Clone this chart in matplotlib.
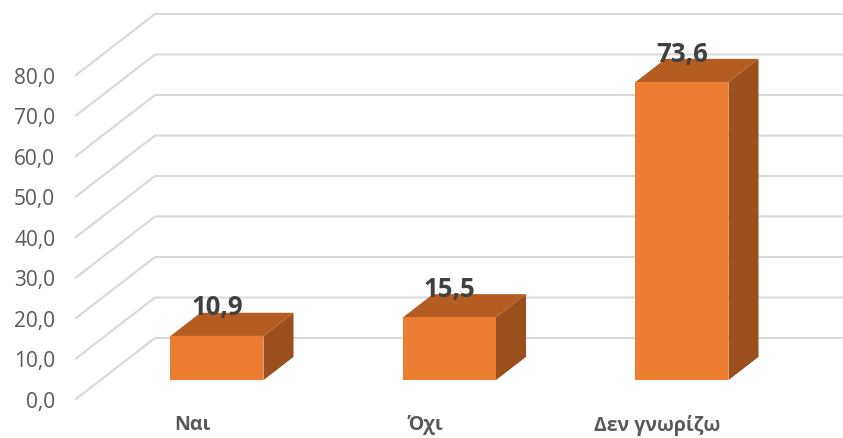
import matplotlib
matplotlib.use('Agg')
import matplotlib.pyplot as plt
import numpy as np
from matplotlib.patches import Polygon

categories = ['Ναι', 'Όχι', 'Δεν γνωρίζω']
values = [10.9, 15.5, 73.6]
y_ticks = [0, 10, 20, 30, 40, 50, 60, 70, 80]

W, H = 843, 439
PX_UNIT = 4.05      # pixels per value unit
PX_CAT = 232.5      # pixels between categories
LEFT, BOTTOM = 76, 400
CAT0 = 192.5

# wall depth in pixels
DEPTH_X, DEPTH_Y = 79, 61
BAR_W = 93 / PX_CAT
BAR_NEAR, BAR_FAR = 0.31, 0.69

plt.rcParams['font.family'] = ['Open Sans', 'DejaVu Sans']

fig = plt.figure(figsize=(W / 100, H / 100), dpi=100)
ax = fig.add_axes([LEFT / W, (H - BOTTOM) / H, (W - LEFT) / W, BOTTOM / H])
ax.set_xlim((LEFT - CAT0) / PX_CAT, (W - CAT0) / PX_CAT)
ax.set_ylim(0, BOTTOM / PX_UNIT)
for s in ax.spines.values():
    s.set_visible(False)


def project(x, v, d):
    # oblique projection, d=0 is the front edge of the floor and d=1 the back wall
    return x + d * DEPTH_X / PX_CAT, v + d * DEPTH_Y / PX_UNIT


x_left = ax.get_xlim()[0]
x_right = ax.get_xlim()[1]
for t in y_ticks:
    x0, y0 = project(x_left, t, 0)
    x1, y1 = project(x_left, t, 1)
    ax.plot([x0, x1, x_right], [y0, y1, y1], color='#d9d9d9', lw=1.5, zorder=1,
            clip_on=False, solid_joinstyle='miter')

for i, v in enumerate(values):
    xl = i - BAR_W / 2
    xr = i + BAR_W / 2
    front = [project(xl, 0, BAR_NEAR), project(xr, 0, BAR_NEAR),
             project(xr, v, BAR_NEAR), project(xl, v, BAR_NEAR)]
    top = [project(xl, v, BAR_NEAR), project(xr, v, BAR_NEAR),
           project(xr, v, BAR_FAR), project(xl, v, BAR_FAR)]
    side = [project(xr, 0, BAR_NEAR), project(xr, 0, BAR_FAR),
            project(xr, v, BAR_FAR), project(xr, v, BAR_NEAR)]
    ax.add_patch(Polygon(side, closed=True, fc='#9a4f1c', ec='none', zorder=3))
    ax.add_patch(Polygon(top, closed=True, fc='#b35d22', ec='none', zorder=3))
    ax.add_patch(Polygon(front, closed=True, fc='#ed7d31', ec='none', zorder=4))
    lx, ly = project(i, v, BAR_NEAR)
    ax.annotate(f'{v:.1f}'.replace('.', ','), (lx, ly), xytext=(0, 29),
                textcoords='offset pixels', ha='center', va='center',
                fontsize=18.5, fontweight='bold', color='#404040', zorder=5)

ax.set_yticks(y_ticks)
ax.set_yticklabels([f'{t:.1f}'.replace('.', ',') for t in y_ticks])
ax.tick_params(axis='y', length=0, pad=15, labelsize=15, labelcolor='#595959')

ax.set_xticks(np.arange(len(categories)))
ax.set_xticklabels(categories, fontweight='bold')
ax.tick_params(axis='x', length=0, pad=11, labelsize=14, labelcolor='#595959')

fig.savefig('out.png', dpi=100, facecolor='white')
